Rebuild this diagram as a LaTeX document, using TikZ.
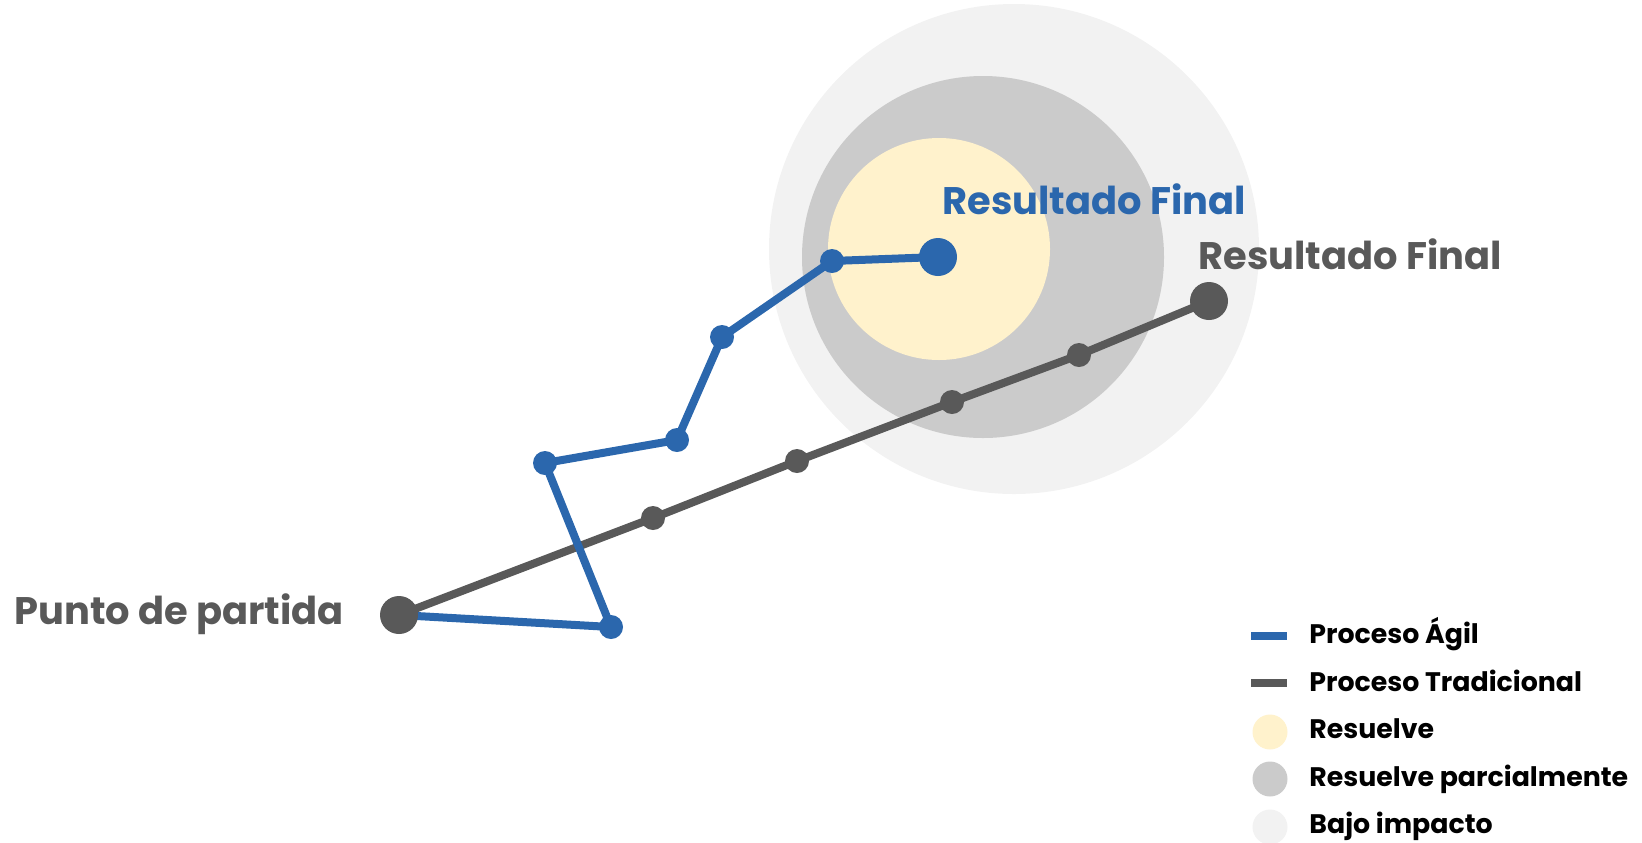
\documentclass[tikz,border=0pt]{standalone}
\usepackage{fontspec}
\setmainfont{Poppins}
\usetikzlibrary{positioning}
\definecolor{agileblue}{RGB}{43, 103, 173}
\definecolor{tradgray}{RGB}{89, 89, 89}
\definecolor{solvecream}{RGB}{255, 242, 204}
\definecolor{partgray}{RGB}{203, 203, 203}
\definecolor{lowgray}{RGB}{242, 242, 242}

\begin{document}
\begin{tikzpicture}[x=0.5pt, y=-0.5pt,
  dot/.style={circle, inner sep=0pt, minimum size=12pt},
  bigdot/.style={circle, inner sep=0pt, minimum size=19pt},
  agileline/.style={draw=agileblue, line width=4pt},
  tradline/.style={draw=tradgray, line width=4pt},
  tag/.style={anchor=base west, inner sep=0pt, font=\fontsize{19.2}{22}\selectfont\bfseries},
  legtext/.style={anchor=base west, inner sep=0pt, font=\fontsize{13.4}{15}\selectfont\bfseries},
  legdot/.style={circle, inner sep=0pt, minimum size=17.5pt}]
  \useasboundingbox (0, 0) rectangle (1642, 842);

  % Impact zones
  \fill[lowgray] (1014, 249) circle (245);
  \fill[partgray] (983, 257) circle (181);
  \fill[solvecream] (939, 249) circle (111);

  % Stops
  \coordinate (start) at (399, 615);
  \coordinate (t1) at (653, 518);
  \coordinate (t2) at (797, 461);
  \coordinate (t3) at (952, 402);
  \coordinate (t4) at (1079, 355);
  \coordinate (tend) at (1209, 301);
  \coordinate (a1) at (611, 627);
  \coordinate (a2) at (545, 463);
  \coordinate (a3) at (677, 440);
  \coordinate (a4) at (722, 337);
  \coordinate (a5) at (832, 261);
  \coordinate (aend) at (938, 257);

  % Traditional process
  \draw[tradline] (start) -- (t1) -- (t2) -- (t3) -- (t4) -- (tend);
  \foreach \p in {t1, t2, t3, t4} {
    \node[dot, fill=tradgray] (\p-dot) at (\p) {};
  }
  \node[bigdot, fill=tradgray] (tend-dot) at (tend) {};

  % Agile process
  \draw[agileline] (start) -- (a1) -- (a2) -- (a3) -- (a4) -- (a5) -- (aend);
  \foreach \p in {a1, a2, a3, a4, a5} {
    \node[dot, fill=agileblue] (\p-dot) at (\p) {};
  }
  \node[bigdot, fill=agileblue] (aend-dot) at (aend) {};
  \node[bigdot, fill=tradgray] (start-dot) at (start) {};

  % Labels
  \node[tag, text=tradgray] (startlabel) at (14, 624) {Punto de partida};
  \node[tag, text=agileblue] (agilelabel) at (942, 214) {Resultado Final};
  \node[tag, text=tradgray] (tradlabel) at (1198, 269) {Resultado Final};

  % Legend
  \coordinate (lg1a) at (1251, 636);
  \coordinate (lg1b) at (1287, 636);
  \coordinate (lg2a) at (1251, 683);
  \coordinate (lg2b) at (1287, 683);
  \draw[agileline] (lg1a) -- (lg1b);
  \draw[tradline] (lg2a) -- (lg2b);
  \node[legdot, fill=solvecream] (lg3) at (1270, 732) {};
  \node[legdot, fill=partgray] (lg4) at (1270, 779) {};
  \node[legdot, fill=lowgray] (lg5) at (1270, 827) {};
  \node[legtext] (lt1) at (1309, 643) {Proceso Ágil};
  \node[legtext] (lt2) at (1309, 691) {Proceso Tradicional};
  \node[legtext] (lt3) at (1309, 738) {Resuelve};
  \node[legtext] (lt4) at (1309, 786) {Resuelve parcialmente};
  \node[legtext] (lt5) at (1309, 833) {Bajo impacto};
\end{tikzpicture}
\end{document}
